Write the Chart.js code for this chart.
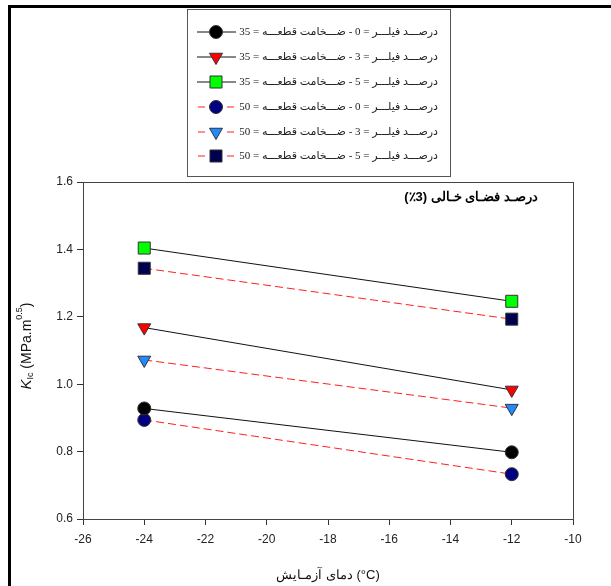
<!DOCTYPE html>
<html>
<head>
<meta charset="utf-8">
<script src="https://cdn.jsdelivr.net/npm/chart.js@4/dist/chart.umd.min.js"></script>
<style>
  html, body { margin: 0; padding: 0; background: #fff; }
  #wrap { position: relative; width: 611px; height: 586px; }
</style>
</head>
<body>
<div id="wrap"><canvas id="chart" width="611" height="586"></canvas></div>
<script>
// داده‌ها (خوانده شده از تصویر)
const temps = [-24, -12];
const fill0_t35 = [0.928, 0.798];
const fill3_t35 = [1.168, 0.983];
const fill5_t35 = [1.404, 1.246];
const fill0_t50 = [0.894, 0.733];
const fill3_t50 = [1.072, 0.929];
const fill5_t50 = [1.344, 1.193];

const legendLabels = [
    'درصـــد فیلـــر = 0 - ضـــخامت قطعـــه = 35',
    'درصـــد فیلـــر = 3 - ضـــخامت قطعـــه = 35',
    'درصـــد فیلـــر = 5 - ضـــخامت قطعـــه = 35',
    'درصـــد فیلـــر = 0 - ضـــخامت قطعـــه = 50',
    'درصـــد فیلـــر = 3 - ضـــخامت قطعـــه = 50',
    'درصـــد فیلـــر = 5 - ضـــخامت قطعـــه = 50'
];
const xTitle = 'دمای آزمـایش (°C)';
const noteText = 'درصـد فضـای خـالی (3٪)';

const FONT = '"Liberation Sans", Arial, sans-serif';

function pts(values) {
    return temps.map((t, i) => ({ x: t, y: values[i] }));
}

function series(label, values, style, color, radius, rotation, dashed) {
    return {
        label: label,
        data: pts(values),
        borderColor: dashed ? '#ff2020' : '#111',
        borderWidth: 1,
        borderDash: dashed ? [8, 4] : [],
        pointStyle: style,
        pointRotation: rotation,
        pointRadius: radius,
        pointBackgroundColor: color,
        pointBorderColor: '#333',
        pointBorderWidth: 1,
        fill: false,
        tension: 0
    };
}

const datasets = [
    series(legendLabels[0], fill0_t35, 'circle', '#000000', 6.5, 0, false),
    series(legendLabels[1], fill3_t35, 'triangle', '#ff0000', 7.5, 180, false),
    series(legendLabels[2], fill5_t35, 'rect', '#00ff00', 8.5, 0, false),
    series(legendLabels[3], fill0_t50, 'circle', '#000080', 6.5, 0, true),
    series(legendLabels[4], fill3_t50, 'triangle', '#1e8cff', 7.5, 180, true),
    series(legendLabels[5], fill5_t50, 'rect', '#000050', 8.5, 0, true)
];

// قاب بیرونی، قاب ناحیه رسم، عنوان‌ها و راهنما
const decorPlugin = {
    id: 'decor',
    beforeDraw(chart) {
        const ctx = chart.ctx;
        ctx.save();
        ctx.fillStyle = '#fff';
        ctx.fillRect(0, 0, chart.width, chart.height);
        // outer frame (cut off at right and bottom)
        ctx.strokeStyle = '#000';
        ctx.lineWidth = 3;
        ctx.beginPath();
        ctx.moveTo(9.5, chart.height + 5);
        ctx.lineTo(9.5, 6.5);
        ctx.lineTo(chart.width + 5, 6.5);
        ctx.stroke();
        ctx.restore();
    },
    afterDraw(chart) {
        const ctx = chart.ctx;
        const a = chart.chartArea;
        ctx.save();
        // plot box
        ctx.strokeStyle = '#444';
        ctx.lineWidth = 1;
        ctx.strokeRect(Math.round(a.left) + 0.5, Math.round(a.top) + 0.5,
            Math.round(a.right - a.left), Math.round(a.bottom - a.top));

        // note inside plot
        ctx.fillStyle = '#000';
        ctx.font = 'bold 13px ' + FONT;
        ctx.textAlign = 'right';
        ctx.textBaseline = 'middle';
        ctx.direction = 'rtl';
        ctx.fillText(noteText, 538, 197);

        // x title
        ctx.direction = 'ltr';
        ctx.font = '13px ' + FONT;
        ctx.textAlign = 'center';
        ctx.fillStyle = '#111';
        ctx.fillText(xTitle, (a.left + a.right) / 2, 575);

        // y title: K_Ic (MPa.m^0.5)
        ctx.translate(27, 346);
        ctx.rotate(-Math.PI / 2);
        const parts = [
            { t: 'K', f: 'italic 15px ' + FONT, dy: 0 },
            { t: 'Ic', f: '9px ' + FONT, dy: 4 },
            { t: ' (MPa.m', f: '14px ' + FONT, dy: 0 },
            { t: '0.5', f: '9px ' + FONT, dy: -7 },
            { t: ')', f: '14px ' + FONT, dy: 0 }
        ];
        let total = 0;
        parts.forEach(p => { ctx.font = p.f; p.w = ctx.measureText(p.t).width; total += p.w; });
        let x = -total / 2;
        ctx.textAlign = 'left';
        parts.forEach(p => {
            ctx.font = p.f;
            ctx.fillText(p.t, x, p.dy);
            x += p.w;
        });
        ctx.restore();

        // legend box
        ctx.save();
        ctx.strokeStyle = '#555';
        ctx.lineWidth = 1;
        ctx.strokeRect(187.5, 9.5, 263, 167);
        const rowsY = [32, 57, 82, 107, 132, 156];
        chart.data.datasets.forEach((ds, i) => {
            const y = rowsY[i];
            ctx.strokeStyle = ds.borderColor;
            ctx.lineWidth = 1;
            ctx.beginPath();
            if (ds.borderDash.length) {
                ctx.moveTo(198, y); ctx.lineTo(205, y);
                ctx.moveTo(227, y); ctx.lineTo(234, y);
            } else {
                ctx.moveTo(197, y); ctx.lineTo(236, y);
            }
            ctx.stroke();
            ctx.fillStyle = ds.pointBackgroundColor;
            ctx.strokeStyle = ds.pointBorderColor;
            Chart.helpers.drawPoint(ctx, {
                pointStyle: ds.pointStyle,
                radius: ds.pointRadius,
                rotation: ds.pointRotation,
                borderWidth: 1
            }, 216, y);
            ctx.fillStyle = '#222';
            ctx.font = '11px "Liberation Serif", "DejaVu Sans", serif';
            ctx.direction = 'rtl';
            ctx.textAlign = 'right';
            ctx.textBaseline = 'middle';
            ctx.fillText(ds.label, 438, y);
        });
        ctx.restore();
    }
};

new Chart(document.getElementById('chart'), {
    type: 'line',
    data: { datasets: datasets },
    options: {
        responsive: false,
        animation: false,
        layout: { padding: { top: 182, right: 38, left: 0, bottom: 0 } },
        plugins: { legend: { display: false }, tooltip: { enabled: false } },
        scales: {
            x: {
                type: 'linear',
                min: -26,
                max: -10,
                afterFit: s => { s.height = 67; },
                ticks: { stepSize: 2, color: '#222', font: { family: FONT, size: 12 }, padding: 7 },
                grid: { drawOnChartArea: false, tickLength: 6, color: '#333' },
                border: { color: '#333' }
            },
            y: {
                min: 0.6,
                max: 1.6,
                afterFit: s => { s.width = 83; },
                ticks: {
                    stepSize: 0.2, color: '#222', font: { family: FONT, size: 12 }, padding: 4,
                    callback: v => v.toFixed(1)
                },
                grid: { drawOnChartArea: false, tickLength: 6, color: '#333' },
                border: { color: '#333' }
            }
        }
    },
    plugins: [decorPlugin]
});
</script>
</body>
</html>
